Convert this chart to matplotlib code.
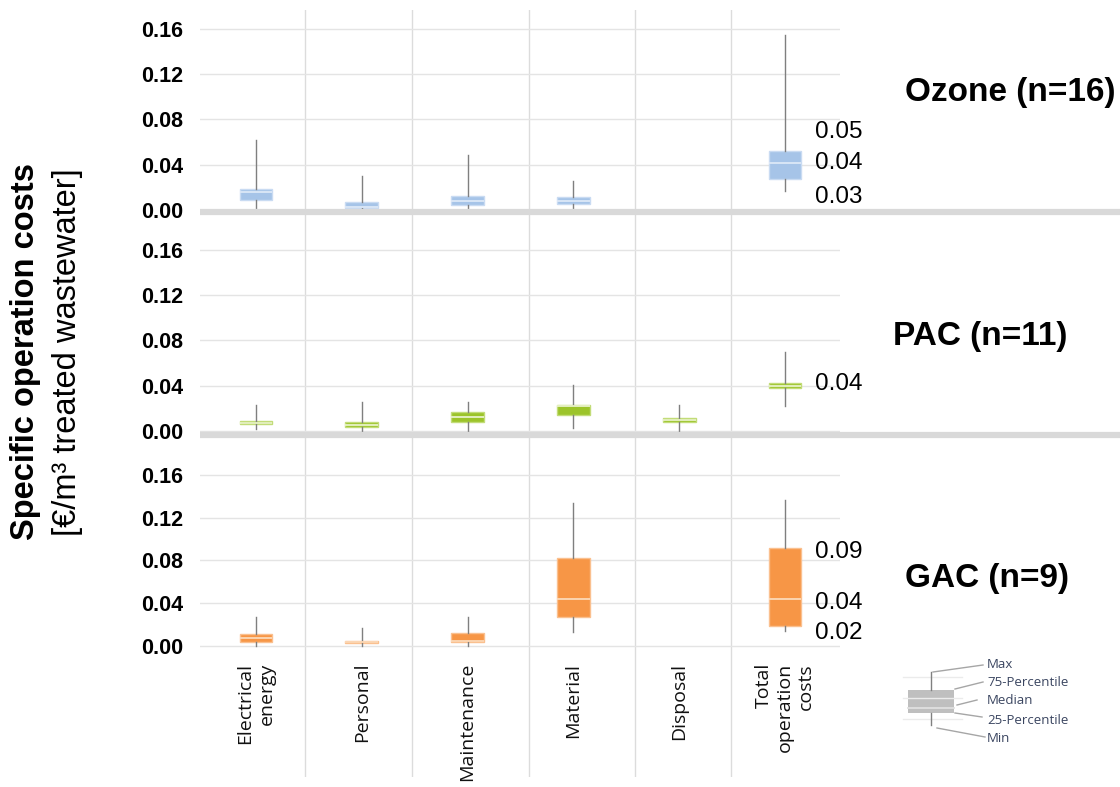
import matplotlib
matplotlib.use("Agg")
import matplotlib.pyplot as plt
from matplotlib.lines import Line2D
from matplotlib.patches import Rectangle

W, H = 1120, 787

categories = ["Electrical\nenergy", "Personal", "Maintenance", "Material", "Disposal", "Total\noperation\ncosts"]

# Ozone (n=16)
oz_min = [0.001, 0.000, 0.001, 0.001, None, 0.0165]
oz_q1 = [0.0088, 0.0015, 0.0047, 0.0050, None, 0.0277]
oz_med = [0.0156, 0.0030, 0.0080, 0.0082, None, 0.0412]
oz_q3 = [0.0185, 0.0070, 0.0120, 0.0115, None, 0.0518]
oz_max = [0.062, 0.0303, 0.049, 0.026, None, 0.1545]

# PAC (n=11)
pac_min = [0.0018, 0.000, 0.000, 0.003, 0.000, 0.0223]
pac_q1 = [0.0065, 0.0038, 0.0080, 0.0144, 0.0077, 0.0377]
pac_med = [0.0075, 0.0057, 0.0124, 0.0222, 0.0095, 0.0400]
pac_q3 = [0.0088, 0.0079, 0.0168, 0.0227, 0.0112, 0.0424]
pac_max = [0.023, 0.026, 0.0253, 0.041, 0.023, 0.0698]

# GAC (n=9)
gac_min = [0.000, 0.000, 0.000, 0.0126, None, 0.0138]
gac_q1 = [0.0032, 0.0025, 0.0032, 0.0272, None, 0.0187]
gac_med = [0.0069, 0.0035, 0.0041, 0.0440, None, 0.0440]
gac_q3 = [0.0107, 0.0044, 0.0119, 0.0822, None, 0.0913]
gac_max = [0.0272, 0.0169, 0.0266, 0.1340, None, 0.1365]

yticks = [0.00, 0.04, 0.08, 0.12, 0.16]
tick_labels = ["0.00", "0.04", "0.08", "0.12", "0.16"]

oz_notes = ["0.05", "0.04", "0.03"]
pac_notes = ["0.04"]
gac_notes = ["0.09", "0.04", "0.02"]

panel_titles = ["Ozone (n=16)", "PAC (n=11)", "GAC (n=9)"]

# layout (pixels)
X0, X1 = 200, 840
CX0, CSTEP = 256, 105.8
separators = [0.463, 1.474, 2.580, 3.582, 4.490]

fig = plt.figure(figsize=(W / 100, H / 100), dpi=100)
fig.patch.set_facecolor("white")

ARIAL = ["Liberation Sans", "DejaVu Sans"]
CAT_FONT = ["Open Sans", "DejaVu Sans"]


def panel(zero_px, px_per_004, top_px, bottom_px):
    ax = fig.add_axes([X0 / W, 1 - bottom_px / H, (X1 - X0) / W, (bottom_px - top_px) / H])
    unit = 0.04 / px_per_004
    ax.set_ylim((zero_px - bottom_px) * unit, (zero_px - top_px) * unit)
    ax.set_xlim((X0 - CX0) / CSTEP, (X1 - CX0) / CSTEP)
    for s in ax.spines.values():
        s.set_visible(False)
    ax.set_yticks(yticks)
    ax.set_yticklabels(tick_labels, fontweight="bold", fontsize=15.5, family=ARIAL)
    ax.tick_params(axis="y", length=0, pad=12, colors="#000000")
    ax.set_xticks([])
    ax.grid(axis="y", color="#E4E4E4", linewidth=1)
    ax.set_axisbelow(True)
    for s in separators:
        ax.axvline(s, color="#DCDCDC", linewidth=1, zorder=0)
    ax.patch.set_alpha(0)
    return ax, unit


def draw(ax, mins, q1s, meds, q3s, maxs, fill, edge, medc):
    stats, pos = [], []
    for i, (mn, a, md, b, mx) in enumerate(zip(mins, q1s, meds, q3s, maxs)):
        if mn is None:
            continue
        stats.append(dict(med=md, q1=a, q3=b, whislo=mn, whishi=mx, fliers=[]))
        pos.append(i)
    ax.bxp(stats, positions=pos, widths=0.31, patch_artist=True, showcaps=False,
           showfliers=False, manage_ticks=False,
           boxprops=dict(facecolor=fill, edgecolor=edge, linewidth=1),
           medianprops=dict(color=medc, linewidth=1.3),
           whiskerprops=dict(color="#7F7F7F", linewidth=1))


ax1, u1 = panel(210, 45.3, 10, 212)
ax2, u2 = panel(431, 45.3, 214, 436)
ax3, u3 = panel(645.7, 42.7, 438, 777)

draw(ax1, oz_min, oz_q1, oz_med, oz_q3, oz_max, "#A6C4E8", "#C9DBF2", "#DCE8F7")
draw(ax2, pac_min, pac_q1, pac_med, pac_q3, pac_max, "#9CC42A", "#C2DC78", "#E8F2C8")
draw(ax3, gac_min, gac_q1, gac_med, gac_q3, gac_max, "#F79646", "#FAC08F", "#FCD9B8")

# value notes next to totals
note_x = (815 - CX0) / CSTEP
for ax, notes, ys in [(ax1, oz_notes, [0.0689, 0.0415, 0.0115]),
                      (ax2, pac_notes, [0.0415]),
                      (ax3, gac_notes, [0.0878, 0.0400, 0.0119])]:
    for t, y in zip(notes, ys):
        ax.text(note_x, y, t, fontsize=17.5, family=ARIAL, ha="left", va="center",
                color="#000000", clip_on=False)

# category labels
cat_y = (777 - 663) / (777 - 438)
for i, c in enumerate(categories):
    ax3.text(i, cat_y, c, transform=ax3.get_xaxis_transform(), rotation=90,
             ha="center", va="top", multialignment="right", fontsize=14,
             family=CAT_FONT, linespacing=1.2, color="#111111")

# thick panel separators
for yp in [211.5, 435]:
    fig.add_artist(Line2D([X0 / W, 1.0], [1 - yp / H, 1 - yp / H], color="#D9D9D9",
                          linewidth=4.5, solid_capstyle="butt"))

# panel titles
for t, (xp, yp) in zip(panel_titles, [(905, 93), (893, 337), (905, 578)]):
    fig.text(xp / W, 1 - yp / H, t, fontsize=24, fontweight="bold", family=ARIAL,
             ha="left", va="center", color="#000000")

# y label
fig.text(26 / W, 1 - 352 / H, "Specific operation costs", rotation=90, fontsize=23.5,
         fontweight="bold", family=ARIAL, ha="center", va="center", color="#000000")
fig.text(68 / W, 1 - 352 / H, "[€/m³ treated wastewater]", rotation=90, fontsize=23.5,
         family=ARIAL, ha="center", va="center", color="#000000")

# legend diagram
lg = fig.add_axes([880 / W, 1 - 760 / H, 240 / W, 110 / H])
lg.set_xlim(880, 1120)
lg.set_ylim(760, 650)
lg.axis("off")
for yy in [677, 698, 719]:
    lg.plot([903, 962], [yy, yy], color="#EBEBEB", linewidth=1)
lg.plot([931, 931], [672, 690], color="#808080", linewidth=1)
lg.plot([931, 931], [713, 725], color="#808080", linewidth=1)
lg.add_patch(Rectangle((908, 690), 46, 23, facecolor="#BFBFBF", edgecolor="none"))
lg.plot([908, 954], [708, 708], color="#E0E0E0", linewidth=1.3)
conn = [((933, 672), (983, 665)), ((955, 689), (983, 682)), ((957, 705), (977, 700)),
        ((955, 713), (982, 717)), ((937, 728), (985, 737))]
for (a, b) in conn:
    lg.plot([a[0], b[0]], [a[1], b[1]], color="#A6A6A6", linewidth=1)
for t, yy in zip(["Max", "75-Percentile", "Median", "25-Percentile", "Min"],
                 [665, 683, 701, 720, 738]):
    lg.text(987, yy, t, fontsize=9.5, family=CAT_FONT, ha="left", va="center", color="#3A4560")

fig.savefig("out.png", dpi=100)
